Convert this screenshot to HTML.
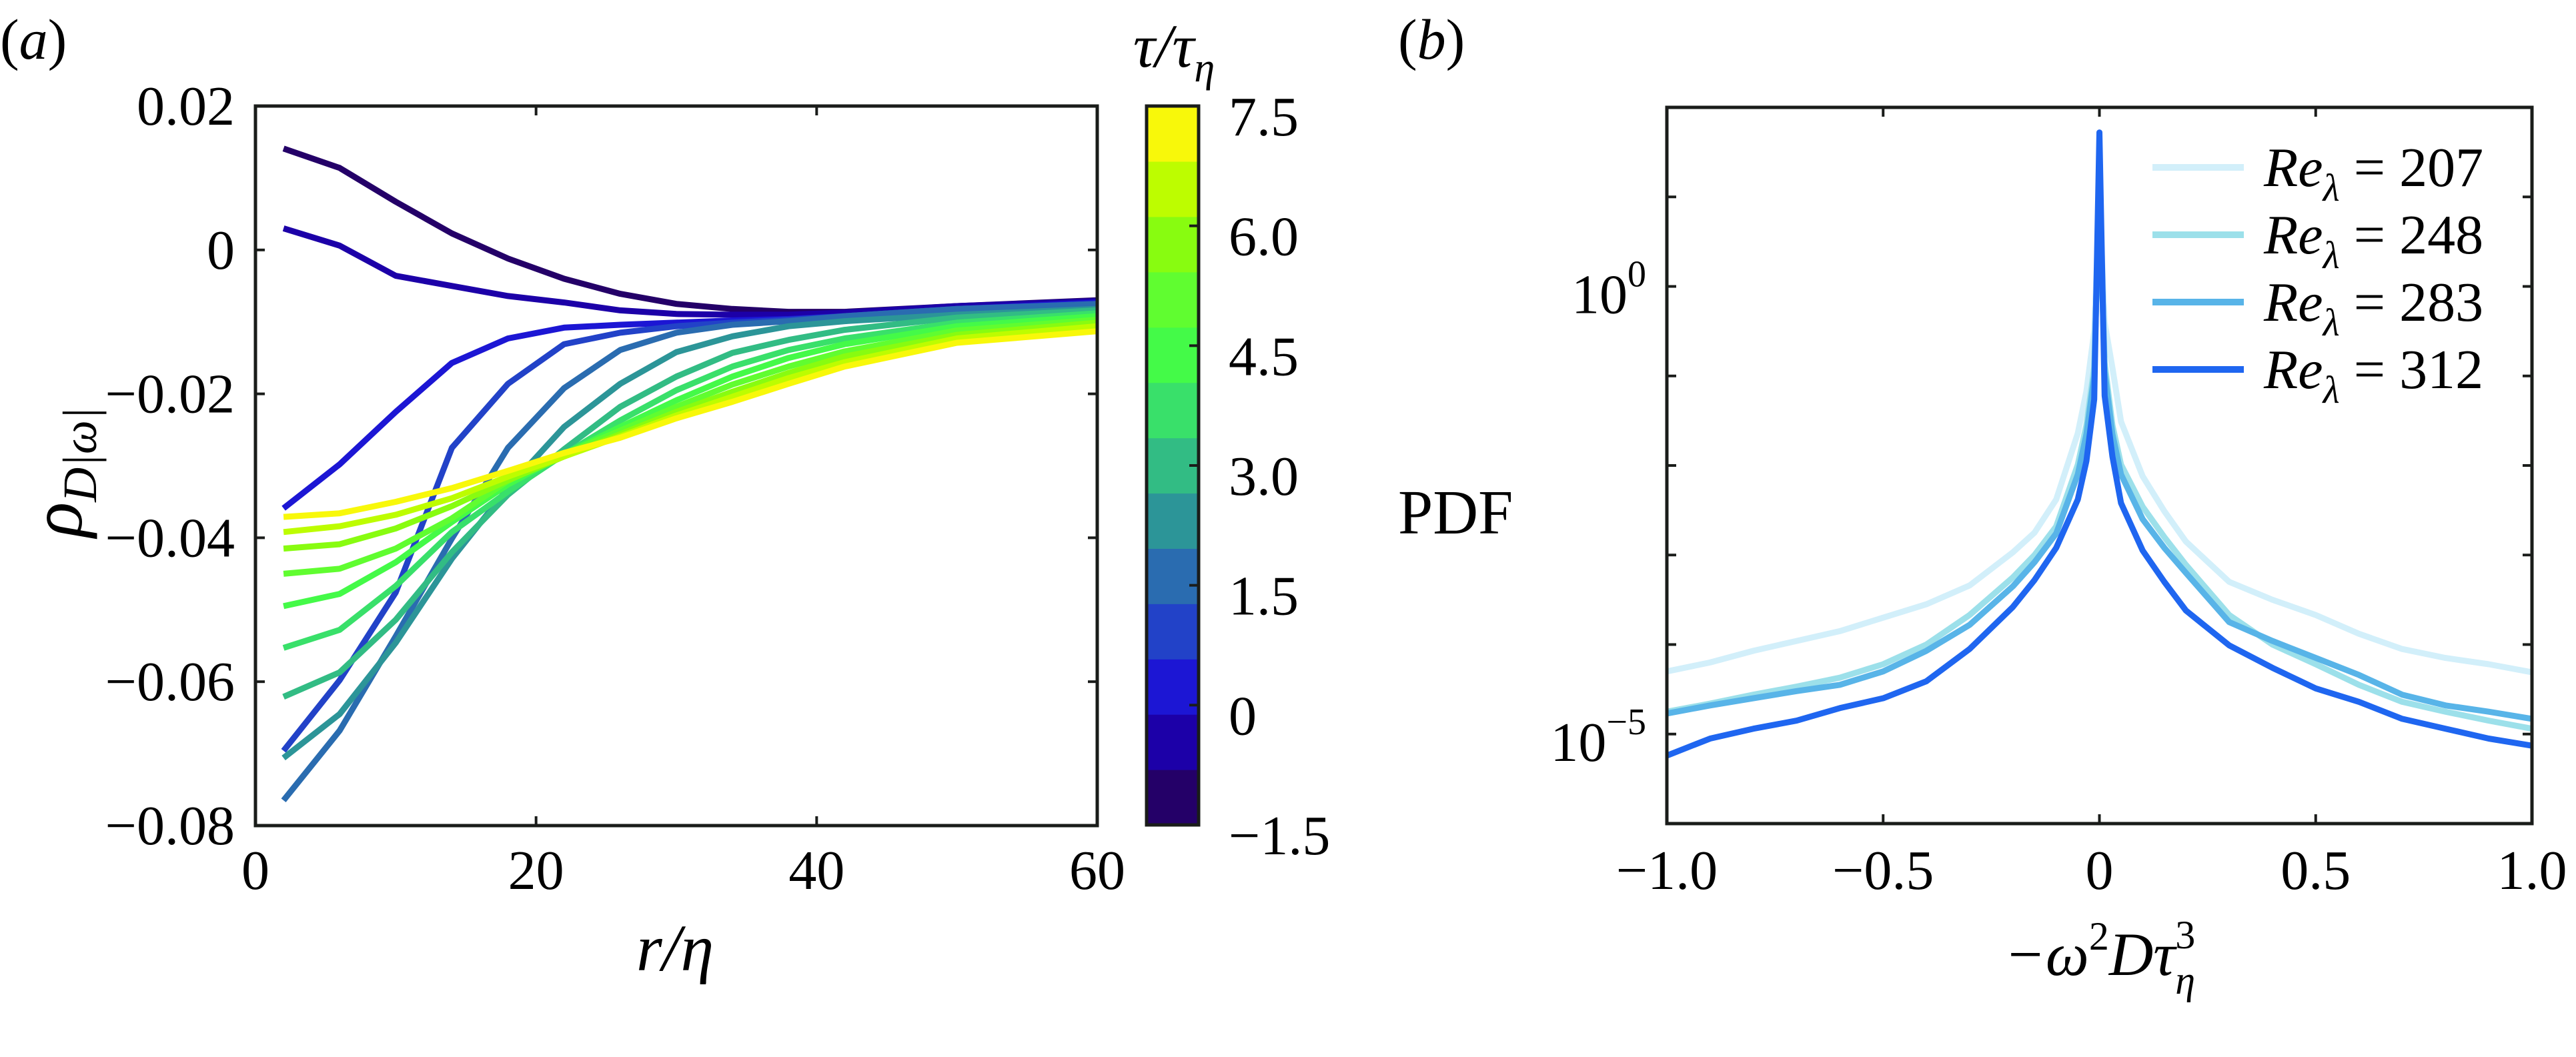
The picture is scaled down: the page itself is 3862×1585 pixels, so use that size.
<!DOCTYPE html>
<html><head><meta charset="utf-8"><style>
html,body{margin:0;padding:0;background:#fff;}
svg{display:block;font-family:"Liberation Serif","DejaVu Serif",serif;}
</style></head><body>
<svg id="fig" width="3862" height="1585" viewBox="0 0 3862 1585" xmlns="http://www.w3.org/2000/svg">
<rect x="0" y="0" width="3862" height="1585" fill="#fff"/>
<g id="pa"></g>
<g id="pb"></g>
<text x="0" y="88" font-size="86">(<tspan font-style="italic">a</tspan>)</text>
<text x="2096" y="88" font-size="86">(<tspan font-style="italic">b</tspan>)</text>
<text x="1012" y="1455" font-size="100" text-anchor="middle" font-style="italic">r/η</text>
<text transform="translate(122,708) rotate(-90)" font-size="110" text-anchor="middle" font-style="italic">ρ<tspan font-size="72" dy="22">D|ω|</tspan></text>
<text x="1760" y="100" font-size="92" text-anchor="middle" font-style="italic">τ/τ<tspan font-size="62" dy="22">η</tspan></text>
<text x="2096" y="800" font-size="94">PDF</text>
<text x="3148" y="1462" font-size="92" text-anchor="middle" font-style="italic">−ω<tspan font-size="60" dy="-38" font-style="normal">2</tspan><tspan dy="38">Dτ</tspan><tspan font-size="60" dy="-40" font-style="normal">3</tspan><tspan font-size="60" dx="-30" dy="68">η</tspan></text>
</svg>
<script>
// ---- Panel (a) data ----
const rVals = [2,6,10,14,18,22,26,30,34,38,42,50,60];
const tauVals = [-1.5,-0.75,0,0.75,1.5,2.25,3,3.75,4.5,5.25,6,6.75,7.5];
const s_m150 = [0.0141,0.0114,0.0067,0.0023,-0.0012,-0.0040,-0.0061,-0.0075,-0.0082,-0.0086,-0.0086,-0.0078,-0.0070];
const s_m075 = [0.0030,0.0006,-0.0036,-0.0050,-0.0064,-0.0073,-0.0084,-0.0089,-0.0090,-0.0090,-0.0087,-0.0078,-0.0071];
const s_000 = [-0.0359,-0.0298,-0.0225,-0.0157,-0.0123,-0.0108,-0.0104,-0.0101,-0.0098,-0.0096,-0.0092,-0.0082,-0.0073];
const s_075 = [-0.0696,-0.0598,-0.0476,-0.0275,-0.0186,-0.0131,-0.0115,-0.0106,-0.0101,-0.0097,-0.0092,-0.0082,-0.0075];
const s_150 = [-0.0765,-0.0668,-0.0537,-0.0401,-0.0275,-0.0192,-0.0139,-0.0115,-0.0104,-0.0099,-0.0092,-0.0082,-0.0075];
const s_225 = [-0.0706,-0.0645,-0.0546,-0.0429,-0.0331,-0.0246,-0.0186,-0.0142,-0.0120,-0.0106,-0.0099,-0.0090,-0.0082];
const s_300 = [-0.0621,-0.0587,-0.0514,-0.0420,-0.0340,-0.0277,-0.0218,-0.0176,-0.0143,-0.0125,-0.0111,-0.0094,-0.0084];
const s_375 = [-0.0553,-0.0528,-0.0467,-0.0392,-0.0336,-0.0284,-0.0237,-0.0195,-0.0162,-0.0139,-0.0123,-0.0101,-0.0088];
const s_450 = [-0.0495,-0.0478,-0.0434,-0.0378,-0.0326,-0.0284,-0.0246,-0.0209,-0.0176,-0.0150,-0.0131,-0.0106,-0.0092];
const s_525 = [-0.0450,-0.0443,-0.0415,-0.0373,-0.0321,-0.0284,-0.0251,-0.0218,-0.0187,-0.0162,-0.0141,-0.0112,-0.0097];
const s_600 = [-0.0415,-0.0409,-0.0387,-0.0356,-0.0320,-0.0287,-0.0256,-0.0225,-0.0197,-0.0171,-0.0148,-0.0118,-0.0101];
const s_675 = [-0.0392,-0.0384,-0.0368,-0.0345,-0.0315,-0.0287,-0.0259,-0.0230,-0.0204,-0.0178,-0.0156,-0.0123,-0.0106];
const s_750 = [-0.0371,-0.0366,-0.0350,-0.0331,-0.0307,-0.0282,-0.0261,-0.0234,-0.0211,-0.0186,-0.0162,-0.0129,-0.0113];
const aXTicks = [0,20,40,60];
const aXTickLabels = ["0","20","40","60"];
const aYTicks = [0.02,0,-0.02,-0.04,-0.06,-0.08];
const aYTickLabels = ["0.02","0","−0.02","−0.04","−0.06","−0.08"];
const cbTicks = [7.5,6,4.5,3,1.5,0,-1.5];
const cbTickLabels = ["7.5","6.0","4.5","3.0","1.5","0","−1.5"];
const cbColors = ["#240068","#1c00a8","#1c16d4","#2242c8","#2a6cb0","#2c9598","#32bc84","#39e06a","#44fa48","#60fd30","#88fc10","#bdfd00","#f8f80a"];

// ---- Panel (b) data (log10 PDF) ----
const bX = [-1,-0.9,-0.8,-0.7,-0.6,-0.5,-0.4,-0.3,-0.2,-0.15,-0.1,-0.05,-0.03,-0.012,0,0.012,0.03,0.05,0.1,0.15,0.2,0.3,0.4,0.5,0.6,0.7,0.8,0.9,1];
const re207 = [-4.30,-4.20,-4.07,-3.96,-3.85,-3.70,-3.55,-3.34,-2.97,-2.75,-2.38,-1.64,-1.17,-0.5,1.0,-0.4,-0.91,-1.51,-2.12,-2.51,-2.85,-3.30,-3.50,-3.67,-3.88,-4.05,-4.15,-4.22,-4.31];
const re248 = [-4.75,-4.66,-4.56,-4.47,-4.37,-4.22,-4.00,-3.67,-3.25,-3.00,-2.68,-1.99,-1.55,-0.9,1.0,-0.85,-1.55,-1.99,-2.46,-2.80,-3.11,-3.67,-4.00,-4.22,-4.45,-4.64,-4.75,-4.85,-4.94];
const re283 = [-4.77,-4.68,-4.60,-4.52,-4.45,-4.30,-4.07,-3.78,-3.35,-3.08,-2.76,-2.10,-1.65,-1.0,1.2,-0.95,-1.65,-2.10,-2.60,-2.92,-3.20,-3.75,-3.96,-4.15,-4.34,-4.56,-4.68,-4.75,-4.83];
const re312 = [-5.24,-5.05,-4.94,-4.85,-4.71,-4.60,-4.41,-4.05,-3.58,-3.28,-2.92,-2.38,-1.95,-1.26,1.72,-1.22,-1.90,-2.42,-2.95,-3.30,-3.62,-4.01,-4.26,-4.49,-4.64,-4.83,-4.94,-5.05,-5.13];
const reLabels = ["207","248","283","312"];
const reColors = ["#d2effa","#9ce0ea","#58b4e8","#1f66f0"];
const bXTicks = [-1,-0.5,0,0.5,1];
const bXTickLabels = ["−1.0","−0.5","0","0.5","1.0"];
const bYDecades = [-6,-5,-4,-3,-2,-1,0,1,2];

const NS = "http://www.w3.org/2000/svg";
function mk(tag, attrs, parent){const e=document.createElementNS(NS,tag);for(const k in attrs)e.setAttribute(k,attrs[k]);parent.appendChild(e);return e;}

// Panel a
const pa = document.getElementById('pa');
const A = {l:383,r:1645,t:159,b:1238};
const ax = v => A.l + (v-0)/(60-0)*(A.r-A.l);
const ay = v => A.t + (0.02-v)/(0.1)*(A.b-A.t);
const seriesA = [s_m150,s_m075,s_000,s_075,s_150,s_225,s_300,s_375,s_450,s_525,s_600,s_675,s_750];
seriesA.forEach((s,i)=>{
  const p = mk('polyline',{points:s.map((v,j)=>ax(rVals[j]).toFixed(1)+','+ay(v).toFixed(1)).join(' '),fill:'none',stroke:cbColors[i],'stroke-width':9,'stroke-linejoin':'round'},pa);
  
  
});
const frameA = mk('rect',{x:A.l,y:A.t,width:A.r-A.l,height:A.b-A.t,fill:'none',stroke:'#1a1c1a','stroke-width':5},pa);


aXTicks.forEach((v,i)=>{
  const x=ax(v);
  mk('line',{x1:x,y1:A.b,x2:x,y2:A.b-14,stroke:'#1a1c1a','stroke-width':4},pa);
  mk('line',{x1:x,y1:A.t,x2:x,y2:A.t+14,stroke:'#1a1c1a','stroke-width':4},pa);
  const t=mk('text',{x:x,y:1333,'font-size':84,'text-anchor':'middle'},pa);
  t.textContent=aXTickLabels[i];
  
  
});
aYTicks.forEach((v,i)=>{
  const y=ay(v);
  mk('line',{x1:A.l,y1:y,x2:A.l+14,y2:y,stroke:'#1a1c1a','stroke-width':4},pa);
  mk('line',{x1:A.r,y1:y,x2:A.r-14,y2:y,stroke:'#1a1c1a','stroke-width':4},pa);
  const t=mk('text',{x:352,y:y+28,'font-size':84,'text-anchor':'end'},pa);
  t.textContent=aYTickLabels[i];
  
  
});
// colorbar
const CB = {l:1719,r:1797,t:159,b:1237};
const cy = v => CB.t + (7.5-v)/9*(CB.b-CB.t);
const n = cbColors.length, bh=(CB.b-CB.t)/n;
cbColors.forEach((c,i)=>{
  const r = mk('rect',{x:CB.l,y:(CB.b-(i+1)*bh).toFixed(2),width:CB.r-CB.l,height:(bh+0.6).toFixed(2),fill:c},pa);
  
  
});
const cbf = mk('rect',{x:CB.l,y:CB.t,width:CB.r-CB.l,height:CB.b-CB.t,fill:'none',stroke:'#1a1c1a','stroke-width':5},pa);


cbTicks.forEach((v,i)=>{
  const y=cy(v);
  mk('line',{x1:CB.r,y1:y,x2:CB.r-14,y2:y,stroke:'#1a1c1a','stroke-width':4},pa);
  const t=mk('text',{x:1842,y:y+44,'font-size':84},pa);
  t.textContent=cbTickLabels[i];
  
  
});

// Panel b
const pb = document.getElementById('pb');
const B = {l:2499,r:3796,t:161,b:1235};
const bx = v => B.l + (v+1)/2*(B.r-B.l);
const by = v => B.t + (2-v)/8*(B.b-B.t);
[re207,re248,re283,re312].forEach((s,i)=>{
  const p = mk('polyline',{points:s.map((v,j)=>bx(bX[j]).toFixed(1)+','+by(v).toFixed(1)).join(' '),fill:'none',stroke:reColors[i],'stroke-width':9,'stroke-linejoin':'round'},pb);
  
  
});
const frameB = mk('rect',{x:B.l,y:B.t,width:B.r-B.l,height:B.b-B.t,fill:'none',stroke:'#1a1c1a','stroke-width':5},pb);


bXTicks.forEach((v,i)=>{
  const x=bx(v);
  mk('line',{x1:x,y1:B.b,x2:x,y2:B.b-14,stroke:'#1a1c1a','stroke-width':4},pb);
  mk('line',{x1:x,y1:B.t,x2:x,y2:B.t+14,stroke:'#1a1c1a','stroke-width':4},pb);
  const t=mk('text',{x:x,y:1333,'font-size':84,'text-anchor':'middle'},pb);
  t.textContent=bXTickLabels[i];
  
  
});
bYDecades.forEach(d=>{
  const y=by(d);
  mk('line',{x1:B.l,y1:y,x2:B.l+14,y2:y,stroke:'#1a1c1a','stroke-width':4},pb);
  mk('line',{x1:B.r,y1:y,x2:B.r-14,y2:y,stroke:'#1a1c1a','stroke-width':4},pb);
  if(d===0||d===-5){
    const t=mk('text',{x:2468,y:y+40,'font-size':84,'text-anchor':'end'},pb);
    t.innerHTML='10<tspan font-size="56" dy="-40">'+(d===0?'0':'−5')+'</tspan>';
    
    
  }
});
// legend
reLabels.forEach((lab,i)=>{
  const y=251+i*101;
  const l=mk('line',{x1:3227,y1:y,x2:3364,y2:y,stroke:reColors[i],'stroke-width':10},pb);
  
  
  const t=mk('text',{x:3394,y:y+28,'font-size':84},pb);
  t.innerHTML='<tspan font-style="italic">Re</tspan><tspan font-style="italic" font-size="58" dy="22">λ</tspan><tspan dy="-22"> = '+lab+'</tspan>';
  
  
});
</script>
</body></html>
